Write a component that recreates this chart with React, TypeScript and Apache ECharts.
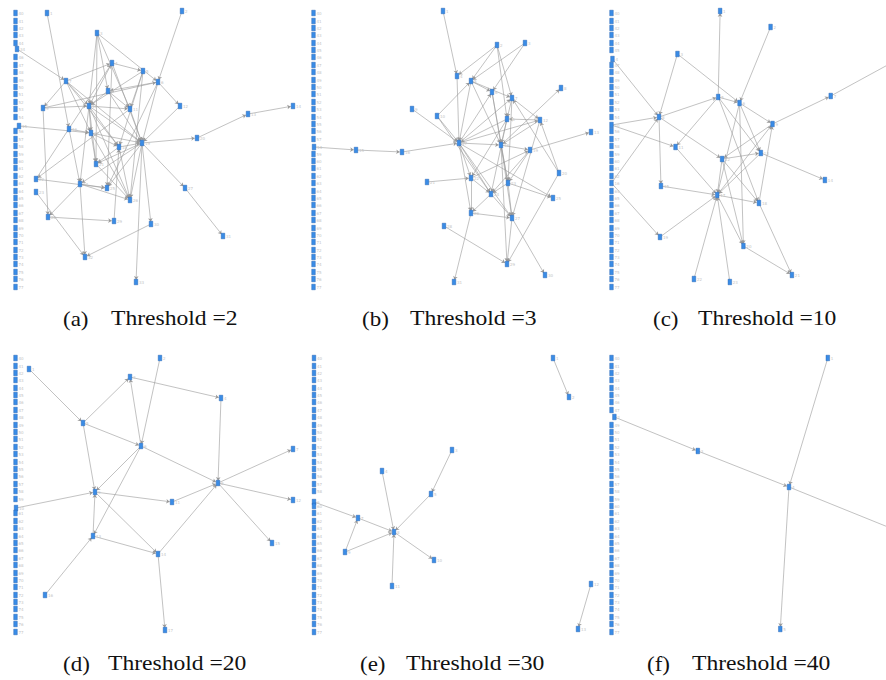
import React, { useEffect, useRef } from "react";
import * as echarts from "echarts";

// y positions of the column of isolated nodes (panel-local units)
const columnY = [13, 21, 28, 35, 43, 50, 57, 65, 72, 80, 87, 94, 102, 109, 117, 124, 131, 139, 146, 154, 161, 168, 176, 183, 191, 198, 205, 213, 220, 228, 235, 242, 250, 257, 264, 272, 279, 287];

const thresholds = [2, 3, 10, 20, 30, 40];
const captionTags = ["(a)", "(b)", "(c)", "(d)", "(e)", "(f)"];

// Panel (a) threshold = 2
const nodesA = [[47, 13], [182, 11], [97, 33], [112, 63], [143, 71], [158, 82], [66, 81], [108, 91], [43, 108], [89, 106], [130, 109], [180, 106], [248, 114], [293, 106], [19, 126], [69, 129], [91, 133], [119, 147], [142, 143], [197, 138], [96, 164], [36, 179], [36, 192], [80, 184], [107, 188], [130, 200], [185, 188], [48, 217], [114, 221], [151, 224], [223, 236], [85, 257], [136, 282], [17, 49]];
const linksA = [[0, 15], [33, 6], [1, 5], [2, 5], [5, 11], [2, 9], [2, 7], [2, 10], [2, 20], [6, 8], [6, 3], [6, 9], [6, 16], [6, 18], [6, 17], [3, 4], [3, 9], [3, 18], [3, 24], [4, 9], [4, 10], [4, 17], [4, 25], [5, 7], [8, 5], [5, 18], [5, 24], [7, 9], [7, 10], [7, 18], [8, 9], [8, 27], [9, 10], [9, 16], [9, 17], [9, 20], [9, 25], [9, 23], [9, 18], [10, 18], [10, 21], [11, 18], [12, 13], [19, 12], [18, 19], [14, 16], [16, 18], [15, 16], [15, 23], [16, 17], [16, 25], [16, 20], [17, 18], [17, 20], [17, 25], [18, 24], [18, 25], [18, 20], [18, 23], [18, 32], [18, 26], [26, 30], [21, 24], [21, 3], [22, 31], [23, 31], [23, 27], [23, 24], [23, 25], [27, 28], [28, 17], [29, 31], [20, 25], [18, 29]];

// Panel (b) threshold = 3
const nodesB = [[143, 11], [197, 45], [225, 43], [157, 76], [171, 81], [192, 92], [212, 98], [261, 88], [112, 109], [137, 116], [207, 119], [240, 120], [291, 132], [14, 147], [56, 150], [102, 152], [159, 143], [201, 145], [230, 150], [259, 173], [127, 182], [171, 178], [208, 183], [191, 194], [253, 198], [171, 213], [212, 218], [144, 226], [207, 264], [245, 275], [154, 282]];
const linksB = [[0, 3], [1, 3], [2, 4], [1, 6], [1, 10], [1, 4], [2, 5], [3, 16], [4, 5], [4, 6], [4, 16], [4, 17], [5, 17], [5, 22], [6, 10], [6, 11], [6, 22], [17, 7], [8, 16], [9, 16], [9, 4], [9, 23], [10, 16], [11, 10], [10, 17], [10, 21], [10, 23], [11, 17], [11, 26], [18, 12], [21, 18], [13, 14], [14, 15], [15, 16], [16, 17], [16, 21], [16, 23], [16, 25], [16, 26], [16, 5], [16, 6], [16, 11], [16, 24], [17, 18], [17, 22], [17, 26], [17, 28], [18, 22], [18, 23], [19, 28], [19, 6], [20, 21], [21, 25], [21, 23], [22, 24], [22, 23], [22, 26], [23, 25], [23, 26], [25, 26], [25, 30], [26, 28], [26, 29], [27, 28], [19, 11]];

// Panel (c) threshold = 10 (last node lies beyond the right edge)
const nodesC = [[129, 11], [181, 27], [85, 54], [18, 59], [127, 97], [149, 103], [243, 96], [66, 117], [183, 124], [17, 125], [83, 147], [131, 159], [171, 153], [237, 180], [68, 186], [17, 183], [126, 195], [169, 203], [67, 237], [153, 246], [203, 275], [102, 279], [139, 282], [330, 50]];
const linksC = [[4, 0], [1, 5], [2, 5], [2, 7], [3, 7], [9, 7], [9, 10], [15, 7], [15, 18], [7, 4], [7, 14], [7, 11], [4, 5], [4, 10], [4, 12], [4, 17], [5, 8], [5, 12], [5, 16], [5, 19], [8, 6], [6, 23], [8, 11], [16, 8], [10, 16], [11, 12], [11, 17], [11, 16], [11, 19], [12, 13], [12, 16], [14, 16], [16, 17], [18, 16], [21, 16], [22, 16], [16, 19], [17, 20], [19, 20], [17, 8]];

// Panel (d) threshold = 20
const nodesD = [[29, 24], [160, 13], [130, 32], [221, 53], [83, 78], [141, 101], [293, 104], [218, 138], [95, 147], [16, 163], [172, 157], [293, 155], [93, 191], [158, 209], [272, 198], [45, 250], [165, 285]];
const linksD = [[0, 4], [4, 2], [2, 3], [3, 7], [4, 5], [5, 2], [1, 5], [5, 8], [5, 12], [5, 7], [4, 8], [9, 8], [8, 10], [10, 7], [8, 13], [12, 13], [13, 7], [13, 16], [15, 12], [7, 6], [7, 11], [7, 14], [12, 8]];

// Panel (e) threshold = 30
const nodesE = [[253, 13], [269, 52], [152, 105], [82, 126], [131, 149], [14, 157], [58, 173], [94, 187], [45, 207], [134, 215], [92, 241], [291, 239], [278, 284]];
const linksE = [[0, 1], [2, 4], [4, 7], [3, 7], [5, 6], [6, 7], [8, 6], [8, 7], [7, 9], [10, 7], [11, 12]];

// Panel (f) threshold = 40 (last node lies beyond the right edge)
const nodesF = [[240, 13], [20, 72], [106, 106], [200, 142], [191, 284], [330, 193]];
const linksF = [[1, 2], [2, 3], [3, 5], [0, 3], [3, 4]];

const panelNodes = [nodesA, nodesB, nodesC, nodesD, nodesE, nodesF];
const panelLinks = [linksA, linksB, linksC, linksD, linksE, linksF];
const ghostNode = [-1, -1, 23, -1, -1, 5];

// layout
const origins = [[0, 0], [300, 0], [595, 0], [0, 345], [300, 345], [595, 345]];
const columnX = [15.5, 13.5, 17, 15.5, 14, 17];
const captionPos = [
  [63, 111, 320], [362, 410, 320], [653, 698, 320],
  [63, 108, 665], [360, 406, 665], [647, 692, 665],
];

function buildOption() {
  const grid: any[] = [];
  const xAxis: any[] = [];
  const yAxis: any[] = [];
  const series: any[] = [];
  const graphic: any[] = [];

  origins.forEach(([ox, oy], i) => {
    grid.push({ left: ox, top: oy, width: 300, height: 300 });
    xAxis.push({ type: "value", gridIndex: i, min: 0, max: 300, show: false });
    yAxis.push({ type: "value", gridIndex: i, min: 0, max: 300, inverse: true, show: false });

    const nodes = panelNodes[i];
    const data: any[] = nodes.map((xy, k) => {
      const item: any = { name: `p${i}n${k}`, value: xy, tag: String(k + 1) };
      if (k === ghostNode[i]) {
        item.symbolSize = 0;
        item.itemStyle = { opacity: 0 };
        item.label = { show: false };
      }
      return item;
    });
    // column slots already taken by a connected node are left out
    columnY.forEach((y, k) => {
      const taken = nodes.some((n) => n[0] < 25 && Math.abs(n[1] - y) < 4);
      if (taken) return;
      data.push({ name: `p${i}c${k}`, value: [columnX[i], y], tag: String(k + 40) });
    });
    const links = panelLinks[i].map(([s, t]) => ({ source: s, target: t }));

    series.push({
      type: "graph",
      coordinateSystem: "cartesian2d",
      xAxisIndex: i,
      yAxisIndex: i,
      silent: true,
      symbol: "rect",
      symbolSize: [3.6, 5.6],
      itemStyle: { color: "#3a8ce6", borderColor: "#1f5cab", borderWidth: 0.4 },
      label: {
        show: true,
        position: "right",
        distance: 1,
        fontSize: 4,
        fontFamily: "DejaVu Sans",
        color: "#c4c4c4",
        formatter: (p: any) => p.data.tag,
      },
      lineStyle: { color: "#999999", width: 0.6, opacity: 1, curveness: 0 },
      edgeSymbol: ["none", "arrow"],
      edgeSymbolSize: 3.5,
      emphasis: { disabled: true },
      data,
      links,
    });

    const [px, tx, cy] = captionPos[i];
    const font = '20px "Liberation Serif"';
    graphic.push({
      type: "text",
      x: px,
      y: cy - 11,
      scaleX: 1.15,
      style: { text: captionTags[i], font, fill: "#111" },
    });
    graphic.push({
      type: "text",
      x: tx,
      y: cy - 11,
      scaleX: 1.18,
      style: { text: `Threshold =${thresholds[i]}`, font, fill: "#111" },
    });
  });

  return {
    animation: false,
    backgroundColor: "#ffffff",
    grid,
    xAxis,
    yAxis,
    series,
    graphic,
  };
}

export default function App() {
  const ref = useRef<HTMLDivElement>(null);
  useEffect(() => {
    if (!ref.current) return;
    const chart = echarts.init(ref.current, undefined, { renderer: "svg" });
    chart.setOption(buildOption() as any);
    return () => chart.dispose();
  }, []);
  return (
    <div
      ref={ref}
      style={{ position: "absolute", left: 0, top: 0, width: 886, height: 680, background: "#fff" }}
    />
  );
}
